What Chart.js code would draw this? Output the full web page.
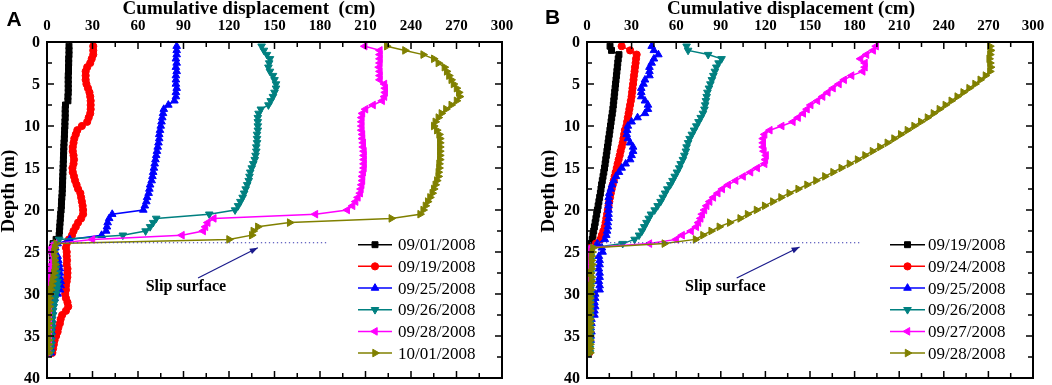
<!DOCTYPE html>
<html><head><meta charset="utf-8">
<script src="https://cdn.jsdelivr.net/npm/chart.js@4.4.1/dist/chart.umd.min.js"></script>
<style>
html,body{margin:0;padding:0;background:#fff;width:1052px;height:385px;overflow:hidden;}
.w{position:absolute;top:0;width:526px;height:385px;}
#wa{left:0}#wb{left:526px}
</style></head><body>
<div class="w" id="wa"><canvas id="ca" width="526" height="385"></canvas></div>
<div class="w" id="wb"><canvas id="cb" width="526" height="385"></canvas></div>
<script>
// ---------- DATA ----------
const depths = [0.5,1,1.5,2,2.5,3,3.5,4,4.5,5,
5.5,6,6.5,7,7.5,8,8.5,9,9.5,10,
10.5,11,11.5,12,12.5,13,13.5,14,14.5,15,
15.5,16,16.5,17,17.5,18,18.5,19,19.5,20,
20.5,21,21.5,22,22.5,23,23.5,24,24.5,25,
25.5,26,26.5,27,27.5,28,28.5,29,29.5,30,
30.5,31,31.5,32,32.5,33,33.5,34,34.5,35,
35.5,36,36.5,37];

const xTickLabels = [0,30,60,90,120,150,180,210,240,270,300];
const yTickLabels = [0,5,10,15,20,25,30,35,40];

const labelsA = ['09/01/2008','09/19/2008','09/25/2008','09/26/2008','09/28/2008','10/01/2008'];
const labelsB = ['09/19/2008','09/24/2008','09/25/2008','09/26/2008','09/27/2008','09/28/2008'];

// Panel A displacements (cm) at each depth
const A_0901 = [14.5,14.5,14.5,14.3,14.3,14.2,14.2,14,14,14,
14,14,13.8,13.8,12.2,12,12,12,11.8,11.8,
11.6,11.5,11.4,11.2,11.1,11,10.9,10.8,10.7,10.6,
10.5,10.4,10.3,10.2,10.1,10,9.8,9.6,9.5,9.3,
9,8.8,8.6,8.4,8.2,8,6,4,3.5,3.5,
3.5,3.8,3.5,3.2,3.5,3.8,3.5,3.3,3,3,
3,3.2,3,2.8,3,3,3.2,3,2.8,3,
2.8,3,2.8,2.5];
const A_0919 = [30.5,30.5,30.5,29.5,28.5,26.5,25.5,25.5,25.5,26,
27,28,28.5,28.8,28.8,28.8,28.5,27.5,26.5,23,
20,19,18,17.5,17,17,17.5,17.8,17.5,16.8,
17,17.8,18.5,19.5,20.5,22,22.5,23,23.5,23.8,
23.8,22.5,20.5,19,17.5,16.5,14.5,13,12.5,13,
13,13.2,13,13.5,13.5,13.4,13,12.5,12.5,12,
12.5,13.5,14,12.5,10,9,8.5,7.5,7,6,
5,4.5,4,3.5];
const A_0925 = [85.5,85.5,85.5,85,85.5,85,85.5,85,85,85,
85.5,85,85,84,80,77,76.5,76,75.5,75,
74.5,74,74,73.5,73,72.5,72,71.5,71,70.5,
70,69.5,69,68,67.5,67,66,65.5,64.5,63.5,
43,41,40,39.5,39,36,15,7,5.5,5,
7,7.5,8,8.5,8.5,8.5,9,9,8.5,7,
5,4,3.5,3.5,3,3,3,3,3,2.5,
2.5,2.5,2.5,2.5];
const A_0926 = [141.5,143,145,147,146.5,146,147,149,150,151,
151,150,149,147.5,146,141,139.5,139,139,139,
139,138.5,138.5,138.5,138,138,137.5,137,136,135,
134,133.5,133,132,131,130,129,127.5,126,124,
107,72,70,68,65,50,8,5.5,5,4.5,
4.5,5,5.5,6,6.5,6.5,7,7,6.5,6,
5.5,5,4.5,4,4,3.5,3.5,3.5,3,3,
3,3,2.5,2.5];
const A_0928 = [209.5,219.5,219.5,219.5,219.5,219,219.5,219.5,219.5,222.5,
223,223,222.5,221,215,210,208,207.5,207.5,207.5,
207.5,208,208,208.5,208.5,209,209,209,209,209,
208.5,208,208,207.5,207,206.5,205,203.5,201.5,198,
177,110,106,104.5,103,89,30,5,3,2.5,
4.5,4,3,2.5,2,1.5,1.5,1,0.5,0.5,
0.5,1,1,1.5,1.5,1.5,1.5,1.5,1.5,1.5,
1.5,1,1,0.5];
const A_1001 = [224,236,248,255,258,262,263.5,265,266.5,268,
270,271.5,272,270,266.5,263,260,258,256,255,
257,258.5,259,259,259,259,259,259,258.5,258.5,
258,258,257,256,255,254,252.5,251,249.5,248,
246,227,160,139,136,135,120,6,5,4.5,
5,5,5.5,5,4.5,4,3.5,3,2.5,2,
1.5,1.5,1.5,1,1,1,1,1,1,1,
1,1,1,1];

// Panel B displacements (cm) at each depth
const B_0919 = [15.5,16.5,21.5,21,20.7,20.4,20.1,19.8,19.5,19.2,
18.9,18.6,18.3,18,17.7,17.4,17,16.6,16.2,15.8,
15.4,15,14.6,14.2,13.8,13.4,13,12.6,12.2,11.8,
11.3,10.8,10.3,9.8,9.4,9,8.5,8,7.5,7,
6.5,6,5.5,5,4.5,4,3.5,2.5,1.5,1.5,
1.5,1.8,1.5,1.2,1.5,1.5,1.2,1.5,1.8,1.5,
1.5,1.2,1.2,1.5,1.5,1.2,1,1,1.2,1.2,
1,1,1,1];
const B_0924 = [23.3,29,33.4,33,32.7,32.3,32,31.6,31.3,31,
30.6,30.3,30,29.5,29,28.5,28,27.5,27,26.5,
25.5,25,24.5,24,23.3,22.6,22,21.3,20.6,20,
19.3,18.6,18,17.3,16.6,16,15.5,15,14.5,14,
13.5,13,12.5,12,11,10,9,6,2.5,2,
2,2.2,2,1.8,2,2,2.2,2,1.8,2,
2,1.8,1.8,2,2,1.8,1.5,1.5,1.8,1.5,
1.5,1.5,1.5,1.5];
const B_0925 = [43.5,45,48,45,43.5,42,42,42,39,38,
36.5,36.5,36.5,39,41,41,39,34,30,27.5,
27,26.7,27.5,29,31,31,30,29,26,23.3,
21.5,19.5,18,16.8,16,15,14.6,14.6,14.5,14.5,
14.5,14.5,14,14,13.5,13,12,7,10,10.5,
8,8.5,8.5,8,8.5,8.5,8,8.5,8.5,5.5,
5.5,5,5.5,5,5,3,3,2.5,3,2.5,
2.5];
const B_0926 = [67,68,81.5,90.5,88.5,87,86,85,84,83,
82,81,80.5,80,79.5,79,78,76.5,75,73.5,
72,70.5,69,68,67,66.5,65.5,64.5,63,62,
60.5,59,57.5,56,54,52.5,51,49.5,47.5,45.5,
43,41.5,40,38.5,37,35,32,24,3,2.5,
2.5,2.5,2.2,2.5,2.5,2.2,2.5,2.5,2.2,2.2,
2.2,2.2,2,2,2,2,2,2,2,2,
2,2,2,2];
const B_0927 = [194.5,192.5,188,184,187,187,185.5,178,173,169.5,
165.5,162,158.5,155,150.5,148,145.5,142,138.5,131,
123,119.5,118.5,118.5,118.5,119,120.5,120,119.5,114.5,
110,105,100,95,91,88,85,82.5,80.5,79,
77.5,76.5,75,73.5,70,64,60,42,2,1.5,
1.5,1.5,1.5,1,1,1,1,1,1,1,
1,1,1,1,1,1,1,1,1,1,
1,1,1];
const B_0928 = [271,271.5,271,270.5,271,271.5,271,268,264.5,261,
257,253,249,245,241,237,233,229,224.5,220,
215.5,211,206.5,202,197,192,187,182,176.5,171,
165.5,160,154,148,142,136,130.5,125,119.5,114,
108,103,96,89,83.5,78,73,52,4,3.5,
3,3,3.5,3,2.5,3,3,2.5,2.5,2.5,
2,2,2,2,2,2,2,2,2,2,
2,2,2,2];

// slip surface annotation (data units)
const slipDepth = 23.9;

// ---------- STYLE ----------
const colors = ['#000000','#ff0000','#0000ff','#008080','#ff00ff','#808000'];
const pStyles = ['rect','circle','triangle','triangle','triangle','triangle'];
const pRot = [0,0,0,180,270,90];
const pRad = [4.2,3.6,4.4,4.4,4.4,4.4];
const SERIF = '"Liberation Serif","Times New Roman",serif';

function drawMarker(ctx, style, rot, r, x, y){
  ctx.beginPath();
  if(style==='rect'){ const s=r*Math.SQRT1_2; ctx.rect(x-s,y-s,2*s,2*s); }
  else if(style==='circle'){ ctx.arc(x,y,r,0,Math.PI*2); }
  else { let a=rot*Math.PI/180; for(let k=0;k<3;k++){ const px=x+Math.sin(a)*r, py=y-Math.cos(a)*r; if(k===0) ctx.moveTo(px,py); else ctx.lineTo(px,py); a+=2*Math.PI/3;} ctx.closePath(); }
  ctx.fill(); ctx.stroke();
}

function makeDatasets(series, labels){
  const n = series.length;
  return series.map((vals,i)=>({
    label: labels[i],
    data: vals.map((v,j)=>({x:v, y:depths[j]})),
    borderColor: colors[i], backgroundColor: colors[i],
    pointBackgroundColor: colors[i], pointBorderColor: colors[i],
    pointStyle: pStyles[i], pointRotation: pRot[i], pointRadius: pRad[i], pointBorderWidth: 1,
    borderWidth: 1.5, showLine: true, fill: false, tension: 0, order: n-1-i
  }));
}

function decoPlugin(cfg){
  return {
    id: 'deco'+cfg.letter,
    afterDatasetsDraw(chart){
      const ctx = chart.ctx, a = chart.chartArea, xs = chart.scales.x, ys = chart.scales.y;
      ctx.save();
      // slip line (dotted)
      ctx.strokeStyle = '#3a3ab0'; ctx.lineWidth = 1.2; ctx.setLineDash([1.3,2.7]);
      ctx.beginPath();
      ctx.moveTo(xs.getPixelForValue(cfg.slipX[0]), ys.getPixelForValue(slipDepth));
      ctx.lineTo(xs.getPixelForValue(cfg.slipX[1]), ys.getPixelForValue(slipDepth));
      ctx.stroke(); ctx.setLineDash([]);
      // arrow
      const tx = xs.getPixelForValue(cfg.arrow[0]), ty = ys.getPixelForValue(cfg.arrow[1]);
      const hx = xs.getPixelForValue(cfg.arrow[2]), hy = ys.getPixelForValue(cfg.arrow[3]);
      ctx.strokeStyle = '#1a1a8c'; ctx.fillStyle = '#1a1a8c'; ctx.lineWidth = 1.2;
      ctx.beginPath(); ctx.moveTo(tx,ty); ctx.lineTo(hx,hy); ctx.stroke();
      const ang = Math.atan2(hy-ty, hx-tx), L = 8, W = 3;
      ctx.beginPath(); ctx.moveTo(hx,hy);
      ctx.lineTo(hx - L*Math.cos(ang) + W*Math.sin(ang), hy - L*Math.sin(ang) - W*Math.cos(ang));
      ctx.lineTo(hx - L*Math.cos(ang) - W*Math.sin(ang), hy - L*Math.sin(ang) + W*Math.cos(ang));
      ctx.closePath(); ctx.fill();
      // slip text
      ctx.fillStyle = '#000'; ctx.font = 'bold 16px '+SERIF; ctx.textAlign='center'; ctx.textBaseline='middle';
      ctx.fillText('Slip surface', xs.getPixelForValue(cfg.slipText[0]), ys.getPixelForValue(cfg.slipText[1]));
      // frame
      ctx.strokeStyle = '#000'; ctx.lineWidth = 2;
      ctx.strokeRect(a.left, a.top, a.right-a.left, a.bottom-a.top);
      // ticks (inward)
      ctx.lineWidth = 1.5;
      const xt = [];
      for(let i=0;i<xTickLabels.length;i++){ xt.push([xTickLabels[i],7]); if(i<xTickLabels.length-1) xt.push([(xTickLabels[i]+xTickLabels[i+1])/2,5]); }
      ctx.beginPath();
      xt.forEach(([v,len])=>{ const px = xs.getPixelForValue(v);
        ctx.moveTo(px,a.top); ctx.lineTo(px,a.top+len);
        ctx.moveTo(px,a.bottom); ctx.lineTo(px,a.bottom-len); });
      const yt = [];
      for(let i=0;i<yTickLabels.length;i++){ yt.push([yTickLabels[i],7]); if(i<yTickLabels.length-1) yt.push([(yTickLabels[i]+yTickLabels[i+1])/2,5]); }
      yt.forEach(([v,len])=>{ const py = ys.getPixelForValue(v);
        ctx.moveTo(a.left,py); ctx.lineTo(a.left+len,py);
        ctx.moveTo(a.right,py); ctx.lineTo(a.right-len,py); });
      ctx.stroke();
      // tick labels
      ctx.fillStyle='#000'; ctx.font = 'bold 15px '+SERIF;
      ctx.textAlign='center'; ctx.textBaseline='middle';
      xTickLabels.forEach(v=> ctx.fillText(String(v), xs.getPixelForValue(v), a.top-16));
      ctx.font = 'bold 16px '+SERIF;
      ctx.textAlign='right';
      yTickLabels.forEach(v=> ctx.fillText(String(v), a.left-7, ys.getPixelForValue(v)+1));
      // axis titles
      ctx.font = 'bold 19px '+SERIF; ctx.textAlign='center';
      ctx.fillText(cfg.title, cfg.titleX, 9);
      ctx.save(); ctx.translate(cfg.depthX, 191); ctx.rotate(-Math.PI/2);
      ctx.fillText('Depth (m)', 0, 0); ctx.restore();
      // panel letter
      ctx.font = 'bold 21px "Liberation Sans",Arial,sans-serif';
      ctx.fillText(cfg.letter, cfg.letterPos[0], cfg.letterPos[1]);
      // legend
      ctx.font = '17px '+SERIF; ctx.textAlign='left';
      cfg.labels.forEach((lab,i)=>{
        const y = 244.7 + i*21.67;
        ctx.strokeStyle = colors[i]; ctx.fillStyle = colors[i]; ctx.lineWidth = 1.5;
        ctx.beginPath(); ctx.moveTo(cfg.legX[0], y); ctx.lineTo(cfg.legX[1], y); ctx.stroke();
        ctx.lineWidth = 1;
        drawMarker(ctx, pStyles[i], pRot[i], pRad[i], (cfg.legX[0]+cfg.legX[1])/2, y);
        ctx.fillStyle = '#000';
        ctx.fillText(lab, cfg.legX[2], y+1);
      });
      ctx.restore();
    }
  };
}

function makeChart(id, series, labels, pad, cfg){
  new Chart(document.getElementById(id), {
    type: 'scatter',
    data: { datasets: makeDatasets(series, labels) },
    options: {
      responsive: false, animation: false, events: [],
      layout: { padding: pad },
      plugins: { legend: {display:false}, tooltip: {enabled:false} },
      scales: {
        x: { type:'linear', min:0, max:300, display:false },
        y: { type:'linear', min:0, max:40, reverse:true, display:false }
      }
    },
    plugins: [decoPlugin(Object.assign({labels}, cfg))]
  });
}

makeChart('ca', [A_0901,A_0919,A_0925,A_0926,A_0928,A_1001], labelsA,
  {left:47, right:24, top:42, bottom:7},
  {letter:'A', letterPos:[14,20], title:'Cumulative displacement  (cm)', titleX:249, depthX:9,
   slipX:[6.5,185], arrow:[99.6,28.1,139,24.5], slipText:[91.6,29.2], legX:[358,392,398]});

makeChart('cb', [B_0919,B_0924,B_0925,B_0926,B_0927,B_0928], labelsB,
  {left:61, right:19, top:42, bottom:7},
  {letter:'B', letterPos:[26.5,18], title:'Cumulative displacement (cm)', titleX:265, depthX:23,
   slipX:[2,184], arrow:[100.7,28.1,143,24.4], slipText:[93,29.2], legX:[364,399,402]});
</script>
</body></html>
